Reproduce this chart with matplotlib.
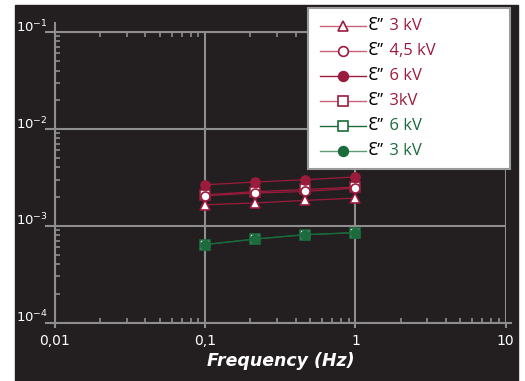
import matplotlib
matplotlib.use("Agg")
import matplotlib.pyplot as plt
from matplotlib.patches import Rectangle
from matplotlib.lines import Line2D
from matplotlib.offsetbox import DrawingArea, TextArea, HPacker, VPacker, AnchoredOffsetbox
from matplotlib.ticker import FixedLocator, FixedFormatter, LogLocator, NullFormatter

# data
freq = [0.1, 0.215, 0.464, 1.0]
eps_3kv_tri = [1.65e-3, 1.72e-3, 1.83e-3, 1.93e-3]
eps_45kv = [2.04e-3, 2.18e-3, 2.26e-3, 2.45e-3]
eps_6kv = [2.65e-3, 2.83e-3, 2.99e-3, 3.19e-3]
eps_3kv_sq = [2.09e-3, 2.25e-3, 2.37e-3, 2.51e-3]
eps_6kv_green = [6.4e-4, 7.3e-4, 8.1e-4, 8.5e-4]
eps_3kv_green = [6.4e-4, 7.3e-4, 8.1e-4, 8.5e-4]

sym = "Ɛ”"
labels = ["3 kV", "4,5 kV", "6 kV", "3kV", "6 kV", "3 kV"]
xticks = [0.01, 0.1, 1, 10]
xticklabels = ["0,01", "0,1", "1", "10"]
yticks = [1e-4, 1e-3, 1e-2, 1e-1]
yticklabels = ["$10^{-4}$", "$10^{-3}$", "$10^{-2}$", "$10^{-1}$"]

red = "#9b1b3d"
pink = "#c9607c"
green = "#1b6b3c"
lgreen = "#5e9c74"
bg = "#231f20"
gray = "#8e8e8e"

fig = plt.figure(figsize=(5.25, 3.81), dpi=100)
fig.patches.append(Rectangle((15/525, 0), 503/525, 376/381, transform=fig.transFigure,
                             color=bg, zorder=-5))
ax = fig.add_axes([55/525, 1-322.7/381, 450.7/525, 290.7/381])
ax.set_facecolor(bg)

# (values, marker, size, face, edge, line colour in plot, line colour in legend, label colour, zorder)
series = [
    (eps_3kv_tri, "^", 7, "white", red, red, pink, red, 4),
    (eps_45kv, "o", 6.5, "white", red, red, pink, red, 5),
    (eps_6kv, "o", 6.5, red, red, red, red, red, 6),
    (eps_3kv_sq, "s", 7, "white", red, red, pink, red, 3),
    (eps_6kv_green, "s", 7, "white", green, green, green, green, 3),
    (eps_3kv_green, "o", 6.5, green, green, green, lgreen, green, 6),
]
for y, m, ms, fc, ec, lc, _, _, z in series:
    ax.plot(freq, y, marker=m, ms=ms, mfc=fc, mec=ec, mew=1.2,
            color=lc, lw=0.9, zorder=z)

ax.set_xscale("log")
ax.set_yscale("log")
ax.set_xlim(0.01, 10)
ax.set_ylim(1e-4, 1e-1)

ax.xaxis.set_major_locator(FixedLocator(xticks))
ax.xaxis.set_major_formatter(FixedFormatter(xticklabels))
ax.yaxis.set_major_locator(FixedLocator(yticks))
ax.yaxis.set_major_formatter(FixedFormatter(yticklabels))
ax.xaxis.set_minor_locator(LogLocator(base=10, subs=range(2, 10)))
ax.yaxis.set_minor_locator(LogLocator(base=10, subs=range(2, 10)))
ax.xaxis.set_minor_formatter(NullFormatter())
ax.yaxis.set_minor_formatter(NullFormatter())

ax.grid(True, which="major", color=gray, lw=1.5, zorder=1)
ax.set_axisbelow(True)
for s in ["left", "bottom", "top"]:
    ax.spines[s].set_color(gray)
    ax.spines[s].set_linewidth(1.5)
ax.spines["right"].set_visible(False)

ax.tick_params(which="major", direction="out", width=1.5, color=gray,
               labelcolor="white", labelsize=10)
ax.tick_params(axis="x", which="major", length=3.6, pad=4.5, top=False)
ax.tick_params(axis="y", which="major", length=7, pad=-2, labelsize=9.5)
ax.tick_params(which="minor", direction="in", length=3.5, width=1.2, color=gray,
               top=True)
plt.setp(ax.get_yticklabels(), va="baseline")

# axis lines run a little past the frame
ax.plot([1, 1.012], [0, 0], transform=ax.transAxes, color=gray, lw=1.5, clip_on=False)
ax.plot([0, 0], [1, 1.03], transform=ax.transAxes, color=gray, lw=1.5, clip_on=False)

ax.set_xlabel("Frequency (Hz)", color="white", fontsize=12.5, fontweight="bold",
              fontstyle="italic", labelpad=3)

# legend box, built by hand so the label can have two colours
x0, x1 = (308-55)/450.7, (510-55)/450.7
y0, y1 = (322.7-169)/290.7, (322.7-8)/290.7
ax.add_patch(Rectangle((x0, y0), x1-x0, y1-y0, transform=ax.transAxes, facecolor="white",
                       edgecolor="#9a9a9a", lw=1.5, clip_on=False, zorder=20))
font = {"family": ["Open Sans", "DejaVu Sans"], "size": 12}
rows = []
for (y, m, ms, fc, ec, lc, hc, tc, z), lab in zip(series, labels):
    da = DrawingArea(38, 18, 0, 0)
    da.add_artist(Line2D([4.5, 38], [9, 9], color=hc, lw=1.0))
    da.add_artist(Line2D([21.2], [9], marker=m, ms=ms + 0.5, mfc=fc, mec=ec, mew=1.2))
    t1 = TextArea(sym, textprops=dict(color="black", **font))
    t2 = TextArea(" " + lab, textprops=dict(color=tc, **font))
    rows.append(HPacker(children=[da, t1, t2], align="center", pad=0, sep=1))
box = VPacker(children=rows, align="left", pad=4, sep=0)
anc = AnchoredOffsetbox(loc="upper left", child=box, pad=0, borderpad=0, frameon=False,
                        bbox_to_anchor=(x0, y1), bbox_transform=ax.transAxes)
anc.set_zorder(25)
ax.add_artist(anc)

fig.savefig("out.png", dpi=100, facecolor="white")
